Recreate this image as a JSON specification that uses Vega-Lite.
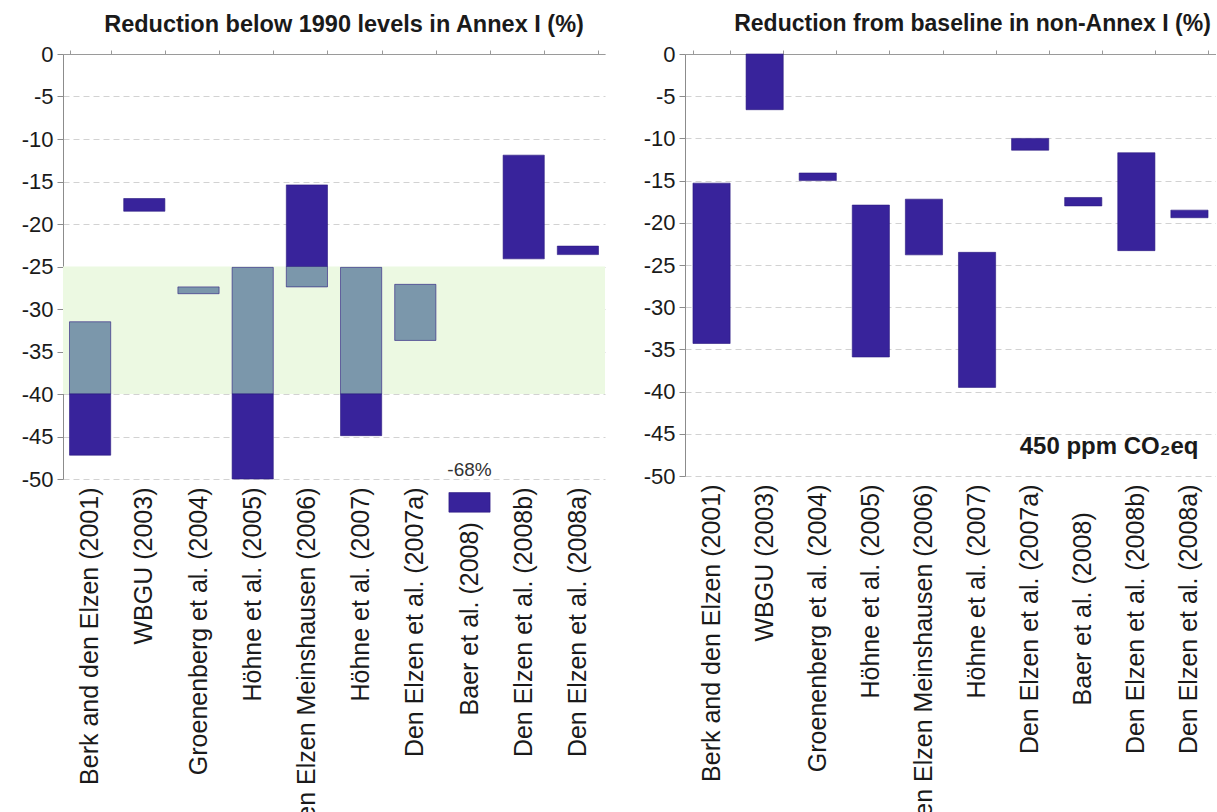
{
  "$schema": "https://vega.github.io/schema/vega-lite/v6.json",
  "background": "white",
  "padding": {"left": 21, "top": 12, "right": 0, "bottom": 0},
  "config": {
    "view": {"stroke": null},
    "font": "Liberation Sans",
    "concat": {"spacing": 38},
    "axis": {"labelFont": "Liberation Sans", "labelColor": "#1a1a1a"},
    "title": {"font": "Liberation Sans", "fontSize": 23, "fontWeight": "bold", "color": "#1a1a1a", "offset": 7}
  },
  "datasets": {
    "annex": [
      {"study": "Berk and den Elzen (2001)", "lo": -31.5, "hi": -40, "part": "within 25-40%"},
      {"study": "Berk and den Elzen (2001)", "lo": -40, "hi": -47.2, "part": "outside"},
      {"study": "WBGU (2003)", "lo": -17.0, "hi": -18.5, "part": "outside"},
      {"study": "Groenenberg et al. (2004)", "lo": -27.4, "hi": -28.2, "part": "within 25-40%"},
      {"study": "Höhne et al. (2005)", "lo": -25.1, "hi": -40, "part": "within 25-40%"},
      {"study": "Höhne et al. (2005)", "lo": -40, "hi": -50, "part": "outside"},
      {"study": "den Elzen Meinshausen (2006)", "lo": -15.4, "hi": -25, "part": "outside"},
      {"study": "den Elzen Meinshausen (2006)", "lo": -25, "hi": -27.4, "part": "within 25-40%"},
      {"study": "Höhne et al. (2007)", "lo": -25.1, "hi": -40, "part": "within 25-40%"},
      {"study": "Höhne et al. (2007)", "lo": -40, "hi": -44.9, "part": "outside"},
      {"study": "Den Elzen et al. (2007a)", "lo": -27.1, "hi": -33.7, "part": "within 25-40%"},
      {"study": "Den Elzen et al. (2008b)", "lo": -11.9, "hi": -24.1, "part": "outside"},
      {"study": "Den Elzen et al. (2008a)", "lo": -22.6, "hi": -23.6, "part": "outside"}
    ],
    "offscale": [
      {"study": "Baer et al. (2008)", "value": -68, "label": "-68%"}
    ],
    "nonannex": [
      {"study": "Berk and den Elzen (2001)", "lo": -15.3, "hi": -34.3},
      {"study": "WBGU (2003)", "lo": 0, "hi": -6.6},
      {"study": "Groenenberg et al. (2004)", "lo": -14.1, "hi": -15.0},
      {"study": "Höhne et al. (2005)", "lo": -17.9, "hi": -35.9},
      {"study": "den Elzen Meinshausen (2006)", "lo": -17.2, "hi": -23.8},
      {"study": "Höhne et al. (2007)", "lo": -23.5, "hi": -39.5},
      {"study": "Den Elzen et al. (2007a)", "lo": -10.0, "hi": -11.4},
      {"study": "Baer et al. (2008)", "lo": -17.0, "hi": -18.0},
      {"study": "Den Elzen et al. (2008b)", "lo": -11.7, "hi": -23.3},
      {"study": "Den Elzen et al. (2008a)", "lo": -18.5, "hi": -19.4}
    ],
    "note": [
      {"study": "Den Elzen et al. (2008a)", "label": "450 ppm CO₂eq"}
    ],
    "band": [
      {"top": -25, "bottom": -40}
    ]
  },
  "hconcat": [
    {
      "width": 542,
      "height": 425,
      "title": {"text": "Reduction below 1990 levels in Annex I (%)", "anchor": "middle", "dx": 10, "fontSize": 23.5},
      "layer": [
        {
          "data": {"name": "band"},
          "mark": {"type": "rect", "color": "#ecf9e2"},
          "encoding": {
            "y": {"field": "top", "type": "quantitative", "scale": {"domain": [-50, 0], "nice": false, "zero": false},
              "axis": {"title": null, "values": [0, -5, -10, -15, -20, -25, -30, -35, -40, -45, -50], "labelExpr": "'' + datum.value", "grid": true, "gridDash": [6, 4], "gridColor": "#d2d2d2", "domainColor": "#8c8c8c", "tickColor": "#8c8c8c", "tickSize": 6, "labelFontSize": 22, "labelPadding": 4}},
            "y2": {"field": "bottom"}
          }
        },
        {
          "data": {"name": "annex"},
          "mark": {"type": "bar", "stroke": "#2a1a80", "strokeWidth": 0.6},
          "encoding": {
            "x": {"field": "study", "type": "nominal",
              "scale": {"domain": ["Berk and den Elzen (2001)", "WBGU (2003)", "Groenenberg et al. (2004)", "Höhne et al. (2005)", "den Elzen Meinshausen (2006)", "Höhne et al. (2007)", "Den Elzen et al. (2007a)", "Baer et al. (2008)", "Den Elzen et al. (2008b)", "Den Elzen et al. (2008a)"], "paddingInner": 0.24, "paddingOuter": 0.12},
              "axis": {"orient": "bottom", "title": null, "labelAngle": -90, "labelFontSize": 25, "labelPadding": 8, "labelLimit": 0, "domain": false, "ticks": false,
                "labelExpr": "datum.value == 'Baer et al. (2008)' ? datum.label + '\u00a0\u00a0\u00a0\u00a0\u00a0\u200b' : datum.label"}},
            "y": {"field": "lo", "type": "quantitative"},
            "y2": {"field": "hi"},
            "color": {"field": "part", "type": "nominal", "scale": {"domain": ["within 25-40%", "outside"], "range": ["#7b97ab", "#38239b"]}, "legend": null}
          }
        },
        {
          "data": {"name": "offscale"},
          "mark": {"type": "bar", "color": "#38239b", "stroke": "#2a1a80", "strokeWidth": 0.6, "clip": false},
          "encoding": {
            "x": {"field": "study", "type": "nominal",
              "scale": {"domain": ["Berk and den Elzen (2001)", "WBGU (2003)", "Groenenberg et al. (2004)", "Höhne et al. (2005)", "den Elzen Meinshausen (2006)", "Höhne et al. (2007)", "Den Elzen et al. (2007a)", "Baer et al. (2008)", "Den Elzen et al. (2008b)", "Den Elzen et al. (2008a)"]},
              "axis": {"orient": "top", "title": null, "labels": false, "domainColor": "#9a9a9a", "tickColor": "#9a9a9a", "tickSize": 4, "tickBand": "extent"}},
            "y": {"datum": -51.6},
            "y2": {"datum": -53.9}
          }
        },
        {
          "data": {"name": "offscale"},
          "mark": {"type": "text", "fontSize": 19, "color": "#333333", "baseline": "middle", "align": "center"},
          "encoding": {
            "x": {"field": "study", "type": "nominal", "axis": null,
              "scale": {"domain": ["Berk and den Elzen (2001)", "WBGU (2003)", "Groenenberg et al. (2004)", "Höhne et al. (2005)", "den Elzen Meinshausen (2006)", "Höhne et al. (2007)", "Den Elzen et al. (2007a)", "Baer et al. (2008)", "Den Elzen et al. (2008b)", "Den Elzen et al. (2008a)"]}},
            "y": {"datum": -48.9},
            "text": {"field": "label"}
          }
        }
      ]
    },
    {
      "width": 531,
      "height": 422,
      "title": {"text": "Reduction from baseline in non-Annex I (%)", "anchor": "middle", "dx": 22},
      "layer": [
        {
          "data": {"name": "nonannex"},
          "mark": {"type": "bar", "color": "#38239b", "stroke": "#2a1a80", "strokeWidth": 0.6},
          "encoding": {
            "x": {"field": "study", "type": "nominal",
              "scale": {"domain": ["Berk and den Elzen (2001)", "WBGU (2003)", "Groenenberg et al. (2004)", "Höhne et al. (2005)", "den Elzen Meinshausen (2006)", "Höhne et al. (2007)", "Den Elzen et al. (2007a)", "Baer et al. (2008)", "Den Elzen et al. (2008b)", "Den Elzen et al. (2008a)"], "paddingInner": 0.3, "paddingOuter": 0.15},
              "axis": {"orient": "bottom", "title": null, "labelAngle": -90, "labelFontSize": 25, "labelPadding": 8, "labelLimit": 0, "domain": false, "ticks": false,
                "labelExpr": "datum.value == 'Baer et al. (2008)' ? datum.label + '\u00a0\u00a0\u00a0\u00a0\u200b' : datum.label"}},
            "y": {"field": "lo", "type": "quantitative", "scale": {"domain": [-50, 0], "nice": false, "zero": false},
              "axis": {"title": null, "values": [0, -5, -10, -15, -20, -25, -30, -35, -40, -45, -50], "labelExpr": "'' + datum.value", "grid": true, "gridDash": [6, 4], "gridColor": "#d2d2d2", "domainColor": "#8c8c8c", "tickColor": "#8c8c8c", "tickSize": 6, "labelFontSize": 22, "labelPadding": 4}},
            "y2": {"field": "hi"}
          }
        },
        {
          "data": {"name": "note"},
          "mark": {"type": "text", "fontSize": 24, "fontWeight": "bold", "color": "#1a1a1a", "align": "right", "baseline": "middle", "dx": 9},
          "encoding": {
            "x": {"field": "study", "type": "nominal",
              "scale": {"domain": ["Berk and den Elzen (2001)", "WBGU (2003)", "Groenenberg et al. (2004)", "Höhne et al. (2005)", "den Elzen Meinshausen (2006)", "Höhne et al. (2007)", "Den Elzen et al. (2007a)", "Baer et al. (2008)", "Den Elzen et al. (2008b)", "Den Elzen et al. (2008a)"]},
              "axis": {"orient": "top", "title": null, "labels": false, "domainColor": "#9a9a9a", "tickColor": "#9a9a9a", "tickSize": 4, "tickBand": "extent"}},
            "y": {"datum": -46.6},
            "text": {"field": "label"}
          }
        }
      ]
    }
  ]
}
